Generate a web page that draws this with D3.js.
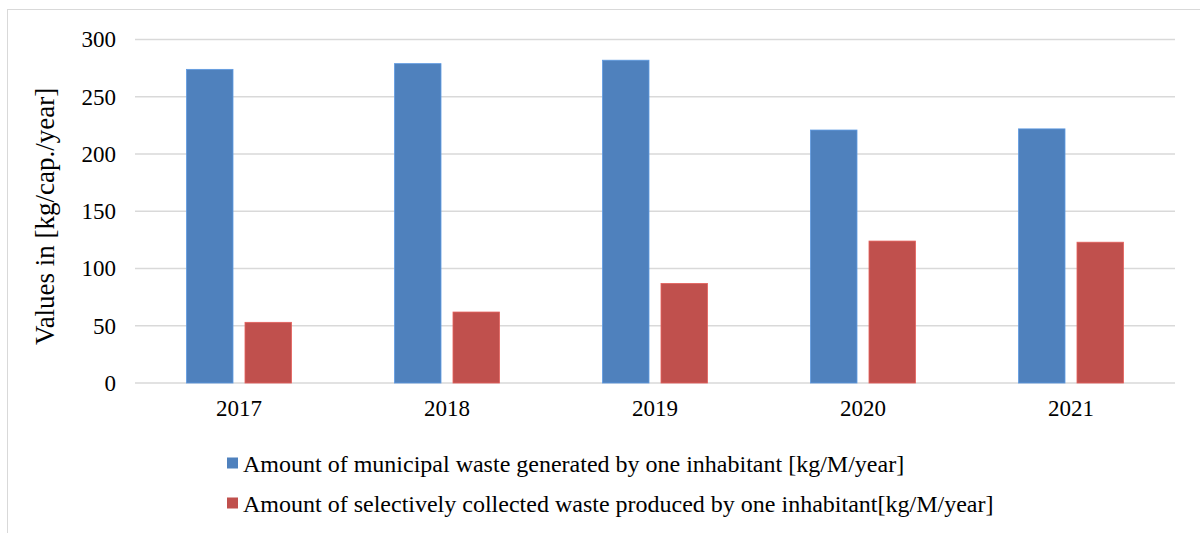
<!DOCTYPE html>
<html>
<head>
<meta charset="utf-8">
<script src="https://cdn.jsdelivr.net/npm/d3@7"></script>
<style>
  html, body { margin: 0; padding: 0; background: #fff; }
  svg { display: block; }
  svg text { font-family: 'Liberation Serif', 'Times New Roman', serif; fill: #000; }
</style>
</head>
<body>
<svg id="chart" width="1200" height="533"></svg>
<script>
// Per-capita waste figures, 2017–2021
const years = ["2017", "2018", "2019", "2020", "2021"];
const municipalWaste = [274, 279, 282, 221, 222];
const selectiveWaste = [53, 62, 87, 124, 123];
const seriesNames = [
  "Amount of municipal waste generated by one inhabitant [kg/M/year]",
  "Amount of selectively collected waste produced by one inhabitant[kg/M/year]"
];
const seriesColors = ["#4F81BD", "#C0504D"];
const yTicks = [0, 50, 100, 150, 200, 250, 300];

const series = [municipalWaste, selectiveWaste];
const rows = years.map((y, i) => ({ year: y, values: series.map(s => s[i]) }));

const svg = d3.select("#chart");

// outer chart frame
svg.append("rect")
  .attr("x", 7.5).attr("y", 9.5)
  .attr("width", 1220).attr("height", 560)
  .attr("fill", "none").attr("stroke", "#d9d9d9").attr("stroke-width", 1);

const plot = { left: 135, right: 1175, top: 39.6, bottom: 383 };

const x = d3.scaleBand().domain(years).range([plot.left, plot.right]);
const x1 = d3.scaleBand().domain(d3.range(series.length)).range([51.5, 208 - 51.5]).paddingInner(0.205);
const y = d3.scaleLinear().domain([0, 300]).range([plot.bottom, plot.top]);

// horizontal gridlines
svg.append("g").selectAll("line").data(yTicks).join("line")
  .attr("x1", plot.left).attr("x2", plot.right)
  .attr("y1", d => y(d)).attr("y2", d => y(d))
  .attr("stroke", "#d9d9d9").attr("stroke-width", 1.5);

// y tick labels
const yAxis = d3.axisLeft(y).tickValues(yTicks).tickSize(0).tickPadding(0);
const gy = svg.append("g").attr("transform", `translate(116,0)`).call(yAxis);
gy.attr("font-family", null).attr("font-size", 23);
gy.select(".domain").remove();
gy.selectAll("text").attr("fill", "#000");

// bars
const groups = svg.append("g").selectAll("g").data(rows).join("g")
  .attr("transform", d => `translate(${x(d.year)},0)`);
groups.selectAll("rect").data(d => d.values.map((v, i) => ({ v, i }))).join("rect")
  .attr("x", d => x1(d.i))
  .attr("width", x1.bandwidth())
  .attr("y", d => y(d.v))
  .attr("height", d => y(0) - y(d.v))
  .attr("fill", d => seriesColors[d.i])
  .attr("stroke", d => d3.color(seriesColors[d.i]).brighter(0.5))
  .attr("stroke-width", 0.8);

// x axis labels
const xAxis = d3.axisBottom(x).tickSize(0).tickPadding(0);
const gx = svg.append("g").attr("transform", `translate(0,${plot.bottom + 17})`).call(xAxis);
gx.attr("font-family", null).attr("font-size", 23);
gx.select(".domain").remove();
gx.selectAll("text").attr("fill", "#000");

// y axis title
svg.append("text")
  .attr("transform", `translate(54,${(plot.top + plot.bottom) / 2 + 5}) rotate(-90)`)
  .attr("text-anchor", "middle")
  .attr("font-size", 27)
  .text("Values in [kg/cap./year]");

// legend
const legend = svg.append("g").selectAll("g").data(seriesNames).join("g")
  .attr("transform", (d, i) => `translate(227,${463 + i * 40})`);
legend.append("rect")
  .attr("x", 0).attr("y", -5.5).attr("width", 11).attr("height", 11)
  .attr("fill", (d, i) => seriesColors[i]);
legend.append("text")
  .attr("x", 16).attr("y", 8.5)
  .attr("font-size", 24)
  .text(d => d);
</script>
</body>
</html>
